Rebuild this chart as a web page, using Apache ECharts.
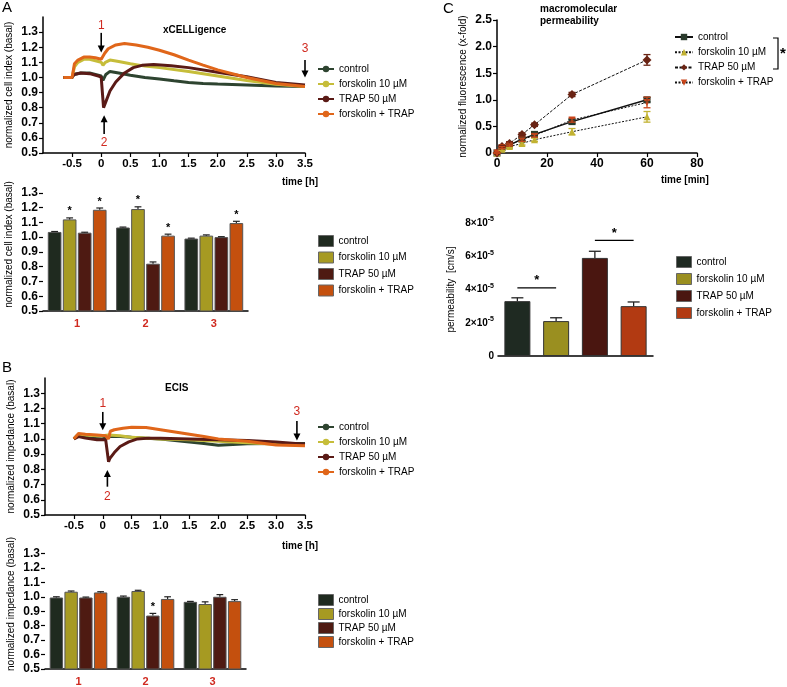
<!DOCTYPE html>
<html>
<head>
<meta charset="utf-8">
<script src="https://cdn.jsdelivr.net/npm/echarts@6/dist/echarts.min.js"></script>
<style>
html, body { margin: 0; padding: 0; background: #fff; }
#main { width: 787px; height: 687px; }
</style>
</head>
<body>
<div id="main"></div>
<script>
// treatments, shared by all panels
var treatments = ['control', 'forskolin 10 µM', 'TRAP 50 µM', 'forskolin + TRAP'];
var groups = ['1', '2', '3'];

// tick labels
var hTicks = [-0.5, 0, 0.5, 1.0, 1.5, 2.0, 2.5, 3.0, 3.5];
var basalTicks = [0.5, 0.6, 0.7, 0.8, 0.9, 1.0, 1.1, 1.2, 1.3];

// A: xCELLigence, normalized cell index vs time [h]
var aLineControl = [[-0.65,1.0],[-0.5,1.0],[-0.47,1.02],[-0.35,1.03],[-0.2,1.03],[-0.05,1.015],[0,1.01],[0.03,0.98],[0.08,1.02],[0.15,1.04],[0.3,1.03],[0.5,1.015],[0.75,1.0],[1.0,0.99],[1.25,0.978],[1.5,0.967],[1.75,0.96],[2.0,0.956],[2.5,0.95],[3.0,0.944],[3.5,0.94]];
var aLineForsk = [[-0.65,1.0],[-0.5,1.0],[-0.46,1.07],[-0.4,1.1],[-0.3,1.12],[-0.2,1.12],[-0.1,1.11],[0,1.1],[0.03,1.08],[0.07,1.1],[0.15,1.115],[0.3,1.105],[0.5,1.09],[0.75,1.075],[1.0,1.065],[1.5,1.04],[2.0,1.01],[2.5,0.98],[3.0,0.955],[3.5,0.94]];
var aLineTrap = [[-0.65,1.0],[-0.5,1.0],[-0.47,1.02],[-0.35,1.03],[-0.2,1.025],[-0.05,1.01],[0,1.0],[0.02,0.9],[0.04,0.8],[0.08,0.84],[0.15,0.91],[0.25,0.97],[0.4,1.03],[0.55,1.065],[0.7,1.08],[0.9,1.085],[1.2,1.077],[1.5,1.065],[2.0,1.035],[2.5,1.005],[3.0,0.967],[3.5,0.95]];
var aLineFT = [[-0.65,1.0],[-0.5,1.0],[-0.46,1.09],[-0.4,1.115],[-0.3,1.135],[-0.2,1.135],[-0.1,1.13],[0,1.12],[0.03,1.11],[0.06,1.16],[0.12,1.19],[0.25,1.215],[0.4,1.225],[0.6,1.215],[0.8,1.2],[1.0,1.18],[1.25,1.15],[1.5,1.115],[1.75,1.082],[2.0,1.05],[2.5,1.0],[3.0,0.96],[3.5,0.94]];

// A: bars at time points 1,2,3 (rows = treatments)
var aBarMean = [[1.035,1.065,0.99],[1.12,1.19,1.01],[1.03,0.82,1.0],[1.185,1.01,1.095]];
var aBarErr = [[0.003,0.003,0.003],[0.01,0.015,0.005],[0.003,0.012,0.003],[0.012,0.01,0.012]];
var aBarStar = [[0,0,0],[1,1,0],[0,0,0],[1,1,1]];

// B: ECIS, normalized impedance vs time [h]
var bLineControl = [[-0.5,1.0],[-0.45,1.02],[-0.35,1.015],[-0.2,1.005],[0,1.0],[0.05,1.01],[0.1,1.015],[0.3,1.015],[0.5,1.01],[0.75,1.005],[1.0,1.0],[1.25,0.99],[1.5,0.98],[1.75,0.97],[2.0,0.958],[2.25,0.963],[2.5,0.968],[3.0,0.97],[3.5,0.97]];
var bLineForsk = [[-0.5,1.0],[-0.42,1.03],[-0.3,1.025],[-0.1,1.02],[0,1.02],[0.1,1.025],[0.3,1.02],[0.5,1.01],[1.0,1.0],[1.5,0.995],[2.0,0.985],[2.5,0.975],[3.0,0.965],[3.5,0.96]];
var bLineTrap = [[-0.5,1.0],[-0.42,1.015],[-0.3,1.005],[-0.1,0.995],[0.05,0.995],[0.08,0.99],[0.1,0.85],[0.12,0.87],[0.2,0.91],[0.3,0.95],[0.45,0.98],[0.6,1.0],[0.8,1.005],[1.0,1.005],[1.5,1.0],[2.0,0.995],[2.5,0.99],[3.0,0.98],[3.5,0.965]];
var bLineFT = [[-0.5,1.0],[-0.42,1.035],[-0.3,1.03],[-0.1,1.025],[0.05,1.02],[0.08,1.01],[0.1,1.0],[0.13,1.05],[0.2,1.06],[0.35,1.07],[0.5,1.077],[0.75,1.075],[1.0,1.06],[1.25,1.045],[1.5,1.03],[1.75,1.015],[2.0,1.0],[2.5,0.985],[3.0,0.96],[3.5,0.955]];

var bBarMean = [[0.995,1.0,0.965],[1.035,1.04,0.95],[0.995,0.87,1.0],[1.03,0.985,0.97]];
var bBarErr = [[0.005,0.005,0.003],[0.005,0.005,0.015],[0.003,0.015,0.015],[0.005,0.015,0.01]];
var bBarStar = [[0,0,0],[0,0,0],[0,1,0],[0,0,0]];

// C: macromolecular permeability
var cTime = [0, 2, 5, 10, 15, 30, 60];
var cControl = [0, 0.1, 0.15, 0.26, 0.35, 0.59, 1.0];
var cControlErr = [0, 0.02, 0.02, 0.03, 0.03, 0.04, 0.04];
var cForsk = [0, 0.07, 0.12, 0.18, 0.25, 0.4, 0.68];
var cForskErr = [0, 0.02, 0.02, 0.03, 0.03, 0.06, 0.1];
var cTrap = [0, 0.12, 0.18, 0.35, 0.53, 1.1, 1.75];
var cTrapErr = [0, 0.02, 0.03, 0.03, 0.03, 0.04, 0.1];
var cFT = [0, 0.1, 0.15, 0.25, 0.33, 0.62, 0.95];
var cFTErr = [0, 0.02, 0.02, 0.03, 0.03, 0.04, 0.1];

var cBarMean = [3.3e-5, 2.1e-5, 5.9e-5, 3.0e-5];
var cBarErr = [0.2e-5, 0.2e-5, 0.4e-5, 0.25e-5];
var cSig = [{from: 0, to: 1, y: 4.1e-5}, {from: 2, to: 3, y: 6.95e-5}];

// arrow annotations [label, t, tail, tip, text]
var aArrows = [['1', 0, 1.295, 1.165, 1.345], ['2', 0.05, 0.625, 0.75, 0.57], ['3', 3.5, 1.115, 1.0, 1.19]];
var bArrows = [['1', 0, 1.177, 1.057, 1.234], ['2', 0.08, 0.686, 0.795, 0.62], ['3', 3.36, 1.118, 0.99, 1.177]];

var FONT = '"Liberation Sans", Arial, sans-serif';
var lineColors = ['#2e4430', '#c6bd3a', '#5a1a16', '#e0661a'];
var barColors = ['#1f2a1f', '#a69a22', '#4e1a12', '#c4500e'];
var cBarColors = ['#1f2a22', '#9a8f20', '#4a1610', '#b23a12'];
var cMarkColors = ['#2a3a2c', '#c2b232', '#6a2414', '#c8441a'];
var red = '#d02a20';

var chart = echarts.init(document.getElementById('main'));

var grids = [
  { left: 43, top: 17, width: 262, height: 136 },   // A line
  { left: 43, top: 178, width: 205, height: 133 },  // A bar
  { left: 45, top: 378, width: 260, height: 137 },  // B line
  { left: 45, top: 539, width: 201, height: 135 },  // B bar
  { left: 497, top: 20, width: 200, height: 133 },  // C line
  { left: 498, top: 223, width: 155, height: 133 }  // C bar
];

function axisLine() {
  return { onZero: false, lineStyle: { color: '#000', width: 1.5 } };
}
function tickStyle(vals) {
  return { show: true, length: 4, customValues: vals, lineStyle: { color: '#000', width: 1.2 } };
}
function boldLabel(extra) {
  var o = { color: '#000', fontFamily: FONT, fontWeight: 'bold', fontSize: 11, margin: 5 };
  for (var k in extra) o[k] = extra[k];
  return o;
}
function oneDec(v) { return v === 0 ? '0' : v.toFixed(1); }

function hAxis(gi) {
  return {
    type: 'value', gridIndex: gi, min: -1, max: 3.5,
    axisLine: axisLine(), axisTick: tickStyle(hTicks),
    axisLabel: boldLabel({ customValues: hTicks, formatter: oneDec, fontSize: 11.5 }),
    splitLine: { show: false }
  };
}
function basalAxis(gi, name) {
  return {
    type: 'value', gridIndex: gi, min: 0.5, max: 1.4,
    name: name, nameLocation: 'middle', nameGap: 29,
    nameTextStyle: { fontFamily: FONT, fontSize: 10, color: '#000' },
    axisLine: axisLine(), axisTick: tickStyle(basalTicks),
    axisLabel: boldLabel({ customValues: basalTicks, fontSize: 12, formatter: function (v) { return v.toFixed(1); } }),
    splitLine: { show: false }
  };
}
function groupAxis(gi) {
  return {
    type: 'category', gridIndex: gi, data: groups,
    axisLine: axisLine(), axisTick: { show: false },
    axisLabel: boldLabel({ color: red, margin: 7 })
  };
}

var xAxes = [hAxis(0), groupAxis(1), hAxis(2), groupAxis(3),
  {
    type: 'value', gridIndex: 4, min: 0, max: 80, interval: 20,
    axisLine: axisLine(), axisTick: { length: 4, lineStyle: { color: '#000', width: 1.2 } },
    axisLabel: boldLabel({ fontSize: 12 }), splitLine: { show: false }
  },
  {
    type: 'category', gridIndex: 5, data: treatments,
    axisLine: axisLine(), axisTick: { show: false }, axisLabel: { show: false }
  }
];
var yAxes = [
  basalAxis(0, 'normalized cell index (basal)'),
  basalAxis(1, 'normalized cell index (basal)'),
  basalAxis(2, 'normalized impedance (basal)'),
  basalAxis(3, 'normalized impedance (basal)'),
  {
    type: 'value', gridIndex: 4, min: 0, max: 2.5, interval: 0.5,
    name: 'normalized fluorescence (x-fold)', nameLocation: 'middle', nameGap: 29,
    nameTextStyle: { fontFamily: FONT, fontSize: 10, color: '#000' },
    axisLine: axisLine(), axisTick: { length: 4, lineStyle: { color: '#000', width: 1.2 } },
    axisLabel: boldLabel({ fontSize: 12, formatter: oneDec }), splitLine: { show: false }
  },
  {
    type: 'value', gridIndex: 5, min: 0, max: 8e-5, interval: 2e-5,
    name: 'permeability  [cm/s]', nameLocation: 'middle', nameGap: 42,
    nameTextStyle: { fontFamily: FONT, fontSize: 10, color: '#000' },
    axisLine: axisLine(), axisTick: { length: 4, lineStyle: { color: '#000', width: 1.2 } },
    axisLabel: {
      color: '#000', fontFamily: FONT, margin: 4,
      formatter: function (v) {
        if (v === 0) return '{b|0}';
        return '{b|' + Math.round(v * 1e5) + '×10}{s|-5}';
      },
      rich: {
        b: { fontFamily: FONT, fontSize: 10, fontWeight: 'bold', color: '#000', lineHeight: 14 },
        s: { fontFamily: FONT, fontSize: 7, fontWeight: 'bold', color: '#000', verticalAlign: 'top', lineHeight: 14, padding: [0, 0, 6, 0] }
      }
    },
    splitLine: { show: false }
  }
];

var series = [];

function addLines(prefix, gi, list) {
  list.forEach(function (d, k) {
    series.push({
      name: prefix + '|' + treatments[k], type: 'line', xAxisIndex: gi, yAxisIndex: gi,
      data: d, showSymbol: false, symbol: 'circle', symbolSize: 4,
      lineStyle: { color: lineColors[k], width: 3 }, itemStyle: { color: lineColors[k] },
      z: 2 + k, animation: false
    });
  });
}

var catGap = 0.14, barGap = 0.1;
function addBars(prefix, gi, means, errs, stars) {
  means.forEach(function (m, k) {
    series.push({
      name: prefix + '|' + treatments[k], type: 'bar', xAxisIndex: gi, yAxisIndex: gi,
      data: m, itemStyle: { color: barColors[k], borderColor: '#555', borderWidth: 1 },
      barCategoryGap: (catGap * 100) + '%', barGap: (barGap * 100) + '%', animation: false
    });
  });
  means.forEach(function (m, k) {
    series.push({
      type: 'custom', xAxisIndex: gi, yAxisIndex: gi, z: 5, animation: false,
      encode: { x: 0, y: 1 },
      data: m.map(function (v, j) { return [j, v, errs[k][j], stars[k][j]]; }),
      renderItem: function (params, api) {
        var band = api.size([1, 0])[0];
        var used = band * (1 - catGap);
        var w = used / (4 + 3 * barGap);
        var off = -used / 2 + w / 2 + k * w * (1 + barGap);
        var base = api.coord([api.value(0), api.value(1)]);
        var top = api.coord([api.value(0), api.value(1) + api.value(2)]);
        var x = base[0] + off;
        var kids = [
          { type: 'line', shape: { x1: x, y1: base[1], x2: x, y2: top[1] }, style: { stroke: '#222', lineWidth: 1.2 } },
          { type: 'line', shape: { x1: x - w * 0.25, y1: top[1], x2: x + w * 0.25, y2: top[1] }, style: { stroke: '#222', lineWidth: 1.2 } }
        ];
        if (api.value(3)) {
          kids.push({ type: 'text', style: { text: '*', x: x, y: top[1] - 1, align: 'center', verticalAlign: 'bottom', fill: '#000', font: 'bold 11px ' + FONT } });
        }
        return { type: 'group', children: kids };
      }
    });
  });
}

addLines('aLine', 0, [aLineControl, aLineForsk, aLineTrap, aLineFT]);
addBars('aBar', 1, aBarMean, aBarErr, aBarStar);
addLines('bLine', 2, [bLineControl, bLineForsk, bLineTrap, bLineFT]);
addBars('bBar', 3, bBarMean, bBarErr, bBarStar);

// C line chart
var cSeries = [cControl, cForsk, cTrap, cFT];
var cErrs = [cControlErr, cForskErr, cTrapErr, cFTErr];
var cSymbols = ['rect', 'triangle', 'diamond', 'triangle'];
var cRotate = [0, 0, 0, 180];
var cDash = ['solid', [2, 1.5], [3, 1.5], [2, 1.5]];
cSeries.forEach(function (vals, k) {
  series.push({
    name: 'cLine|' + treatments[k], type: 'line', xAxisIndex: 4, yAxisIndex: 4,
    data: cTime.map(function (t, j) { return [t, vals[j]]; }),
    symbol: cSymbols[k], symbolRotate: cRotate[k], symbolSize: k === 2 ? 9 : 7,
    lineStyle: { color: '#111', width: k === 0 ? 1.5 : 1, type: cDash[k] },
    itemStyle: { color: cMarkColors[k] }, z: 3 + k, animation: false
  });
  series.push({
    type: 'custom', xAxisIndex: 4, yAxisIndex: 4, z: 8, animation: false,
    encode: { x: 0, y: 1 },
    data: cTime.map(function (t, j) { return [t, vals[j], cErrs[k][j]]; }),
    renderItem: function (params, api) {
      var hi = api.coord([api.value(0), api.value(1) + api.value(2)]);
      var lo = api.coord([api.value(0), api.value(1) - api.value(2)]);
      var s = { stroke: cMarkColors[k], lineWidth: 1.3 };
      return { type: 'group', children: [
        { type: 'line', shape: { x1: hi[0], y1: hi[1], x2: lo[0], y2: lo[1] }, style: s },
        { type: 'line', shape: { x1: hi[0] - 3.5, y1: hi[1], x2: hi[0] + 3.5, y2: hi[1] }, style: s },
        { type: 'line', shape: { x1: lo[0] - 3.5, y1: lo[1], x2: lo[0] + 3.5, y2: lo[1] }, style: s }
      ] };
    }
  });
});

// C bar chart: one series per treatment so each gets its own legend entry
cBarMean.forEach(function (m, k) {
  series.push({
    name: 'cBar|' + treatments[k], type: 'bar', xAxisIndex: 5, yAxisIndex: 5,
    data: cBarMean.map(function (v, j) { return j === k ? v : '-'; }),
    barWidth: 26, barGap: '-100%',
    itemStyle: { color: cBarColors[k], borderColor: '#333', borderWidth: 1 }, animation: false
  });
});
series.push({
  type: 'custom', xAxisIndex: 5, yAxisIndex: 5, z: 5, animation: false,
  encode: { x: 0, y: 1 },
  data: cBarMean.map(function (v, j) { return [j, v, cBarErr[j]]; }),
  renderItem: function (params, api) {
    var base = api.coord([api.value(0), api.value(1)]);
    var top = api.coord([api.value(0), api.value(1) + api.value(2)]);
    var s = { stroke: '#222', lineWidth: 1.3 };
    return { type: 'group', children: [
      { type: 'line', shape: { x1: base[0], y1: base[1], x2: top[0], y2: top[1] }, style: s },
      { type: 'line', shape: { x1: top[0] - 6, y1: top[1], x2: top[0] + 6, y2: top[1] }, style: s }
    ] };
  }
});

function legendNames(prefix) {
  return treatments.map(function (t) { return prefix + '|' + t; });
}
function legend(prefix, left, top, gap, iw, ih, icon) {
  var l = {
    orient: 'vertical', left: left, top: top, itemGap: gap, itemWidth: iw, itemHeight: ih,
    padding: 0, selectedMode: false, data: legendNames(prefix),
    formatter: function (n) { return n.split('|')[1]; },
    textStyle: { fontFamily: FONT, fontSize: 10, color: '#000', lineHeight: 12 }
  };
  if (icon) {
    l.icon = icon;
    l.itemStyle = { borderColor: '#666', borderWidth: 1 };
  }
  return l;
}

var option = {
  backgroundColor: '#fff',
  animation: false,
  title: [
    { text: 'xCELLigence', left: 163, top: 25, padding: 0, textStyle: { fontFamily: FONT, fontSize: 10, fontWeight: 'bold', color: '#000' } },
    { text: 'ECIS', left: 165, top: 383, padding: 0, textStyle: { fontFamily: FONT, fontSize: 10, fontWeight: 'bold', color: '#000' } },
    { text: 'macromolecular\npermeability', left: 540, top: 3, padding: 0, textStyle: { fontFamily: FONT, fontSize: 10, fontWeight: 'bold', color: '#000', lineHeight: 12 } }
  ],
  grid: grids,
  xAxis: xAxes,
  yAxis: yAxes,
  legend: [
    legend('aLine', 317, 63, 3, 16, 8),
    legend('aBar', 318, 235, 4.5, 15, 11, 'rect'),
    legend('bLine', 317, 421, 3, 16, 8),
    legend('bBar', 318, 594, 2, 15, 11, 'rect'),
    legend('cLine', 674, 31, 3.2, 18, 8),
    legend('cBar', 676, 256, 5, 15, 11, 'rect')
  ],
  series: series
};
chart.setOption(option);

// annotations placed through the axes
var gfx = [
  { type: 'text', left: 2, top: 0, style: { text: 'A', font: '15px ' + FONT, fill: '#000' } },
  { type: 'text', left: 2, top: 360, style: { text: 'B', font: '15px ' + FONT, fill: '#000' } },
  { type: 'text', left: 443, top: 1, style: { text: 'C', font: '15px ' + FONT, fill: '#000' } },
  { type: 'text', left: 282, top: 177, style: { text: 'time [h]', font: 'bold 10px ' + FONT, fill: '#000' } },
  { type: 'text', left: 282, top: 541, style: { text: 'time [h]', font: 'bold 10px ' + FONT, fill: '#000' } },
  { type: 'text', left: 661, top: 175, style: { text: 'time [min]', font: 'bold 10px ' + FONT, fill: '#000' } },
  { type: 'polyline', shape: { points: [[773, 38], [778, 38], [778, 69], [773, 69]] }, style: { stroke: '#000', lineWidth: 1.2, fill: null } },
  { type: 'text', left: 780, top: 46, style: { text: '*', font: 'bold 15px ' + FONT, fill: '#000' } }
];

function addArrows(gi, list) {
  list.forEach(function (a) {
    var p0 = chart.convertToPixel({ gridIndex: gi }, [a[1], a[2]]);
    var p1 = chart.convertToPixel({ gridIndex: gi }, [a[1], a[3]]);
    var pt = chart.convertToPixel({ gridIndex: gi }, [a[1], a[4]]);
    var dir = p1[1] > p0[1] ? 1 : -1;
    gfx.push({ type: 'line', shape: { x1: p0[0], y1: p0[1], x2: p1[0], y2: p1[1] - dir * 6 }, style: { stroke: '#000', lineWidth: 1.6 } });
    gfx.push({ type: 'polygon', shape: { points: [[p1[0] - 3.5, p1[1] - dir * 7], [p1[0] + 3.5, p1[1] - dir * 7], [p1[0], p1[1]]] }, style: { fill: '#000' } });
    gfx.push({ type: 'text', x: pt[0], y: pt[1], style: { text: a[0], align: 'center', verticalAlign: 'middle', font: '12px ' + FONT, fill: red } });
  });
}
addArrows(0, aArrows);
addArrows(2, bArrows);

cSig.forEach(function (s) {
  var p0 = chart.convertToPixel({ xAxisIndex: 5, yAxisIndex: 5 }, [s.from, s.y]);
  var p1 = chart.convertToPixel({ xAxisIndex: 5, yAxisIndex: 5 }, [s.to, s.y]);
  gfx.push({ type: 'line', shape: { x1: p0[0], y1: p0[1], x2: p1[0], y2: p1[1] }, style: { stroke: '#000', lineWidth: 1.3 } });
  gfx.push({ type: 'text', x: (p0[0] + p1[0]) / 2, y: p0[1] - 1, style: { text: '*', align: 'center', verticalAlign: 'bottom', font: 'bold 13px ' + FONT, fill: '#000' } });
});

chart.setOption({ graphic: gfx });
window.onresize = chart.resize;
</script>
</body>
</html>
